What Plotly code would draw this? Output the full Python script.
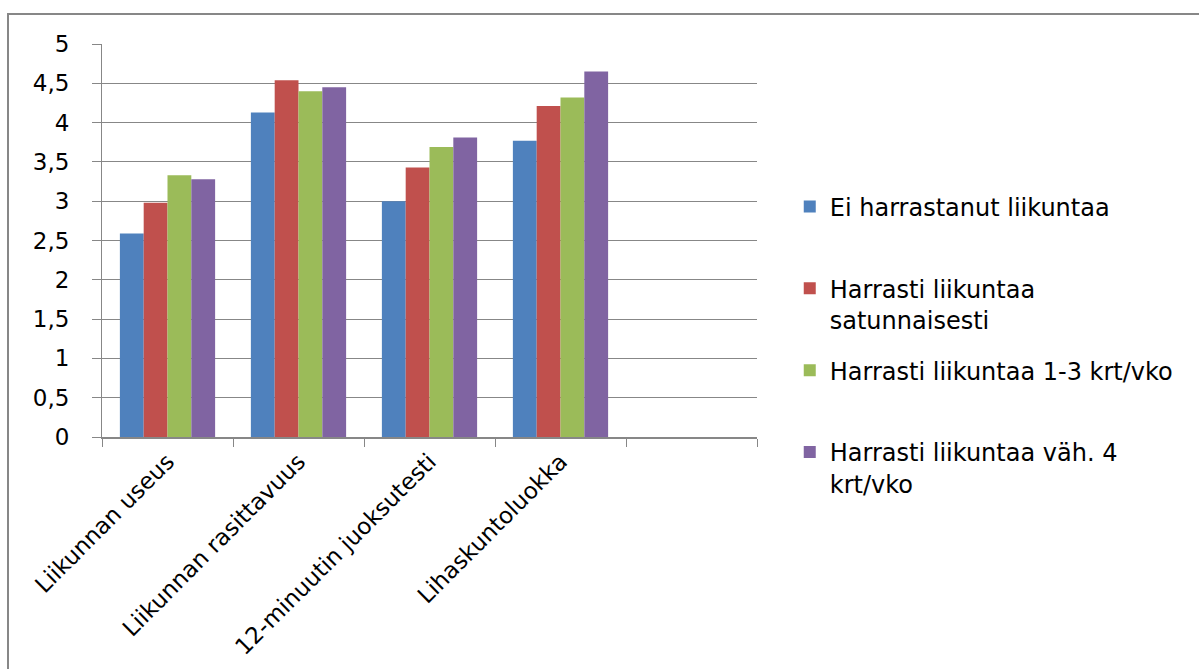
import plotly.graph_objects as go

# Test categories; the trailing blank slot keeps an empty fifth column on the axis
categories = ["Liikunnan useus", "Liikunnan rasittavuus", "12-minuutin juoksutesti",
              "Lihaskuntoluokka", " "]

series_names = [
    "Ei harrastanut liikuntaa",
    "Harrasti liikuntaa<br>satunnaisesti",
    "Harrasti liikuntaa 1-3 krt/vko",
    "Harrasti liikuntaa väh. 4<br>krt/vko",
]

ei_harrastanut = [2.59, 4.13, 3.00, 3.77, None]
satunnaisesti = [2.98, 4.54, 3.43, 4.21, None]
krt_1_3 = [3.33, 4.40, 3.69, 4.32, None]
vah_4 = [3.28, 4.45, 3.81, 4.65, None]

series_values = [ei_harrastanut, satunnaisesti, krt_1_3, vah_4]
colors = ["#4F81BD", "#C0504D", "#9BBB59", "#8064A2"]

FONT = "DejaVu Sans"
GRID = "#878787"

fig = go.Figure()
for i, (name, vals, col) in enumerate(zip(series_names, series_values, colors)):
    # pad single-line entries to two lines so every legend row has equal pitch
    label = name if "<br>" in name else name + "<br> "
    fig.add_trace(go.Bar(
        x=categories, y=vals, name=label, marker_color=col,
        marker_line_width=0, legendgroup=f"g{i}",
    ))

fig.update_layout(
    width=1199, height=669,
    margin=dict(l=102, r=442, t=44, b=232),
    paper_bgcolor="white", plot_bgcolor="white",
    barmode="group", bargap=0.273, bargroupgap=0,
    separators=", ",
    font=dict(family=FONT, size=23, color="#000000"),
    showlegend=True,
    legend=dict(
        x=1.05, xanchor="left", y=0.643, yanchor="top",
        font=dict(family=FONT, size=24, color="#000000"),
        valign="top", tracegroupgap=16.5, bgcolor="rgba(0,0,0,0)",
    ),
    xaxis=dict(
        type="category", categoryorder="array", categoryarray=categories,
        range=[-0.5, 4.5], tickson="boundaries", automargin=False,
        showline=True, linecolor=GRID, linewidth=2,
        ticks="outside", ticklen=8, tickcolor=GRID, tickwidth=1,
        tickangle=-45, showgrid=False,
        tickfont=dict(family=FONT, size=23),
    ),
    yaxis=dict(
        range=[0, 5], dtick=0.5, tick0=0, automargin=False,
        showline=True, linecolor=GRID, linewidth=1,
        showgrid=True, gridcolor=GRID, gridwidth=1,
        ticks="outside", ticklen=9, tickcolor=GRID,
        ticklabelstandoff=18,
        tickfont=dict(family=FONT, size=23),
        zeroline=False,
    ),
    shapes=[dict(
        type="rect", xref="paper", yref="paper",
        x0=-0.1435, x1=1.8, y0=-0.75, y1=1.0763,
        line=dict(color=GRID, width=2), fillcolor="rgba(0,0,0,0)", layer="below",
    )],
)

fig.write_html("out.html")
